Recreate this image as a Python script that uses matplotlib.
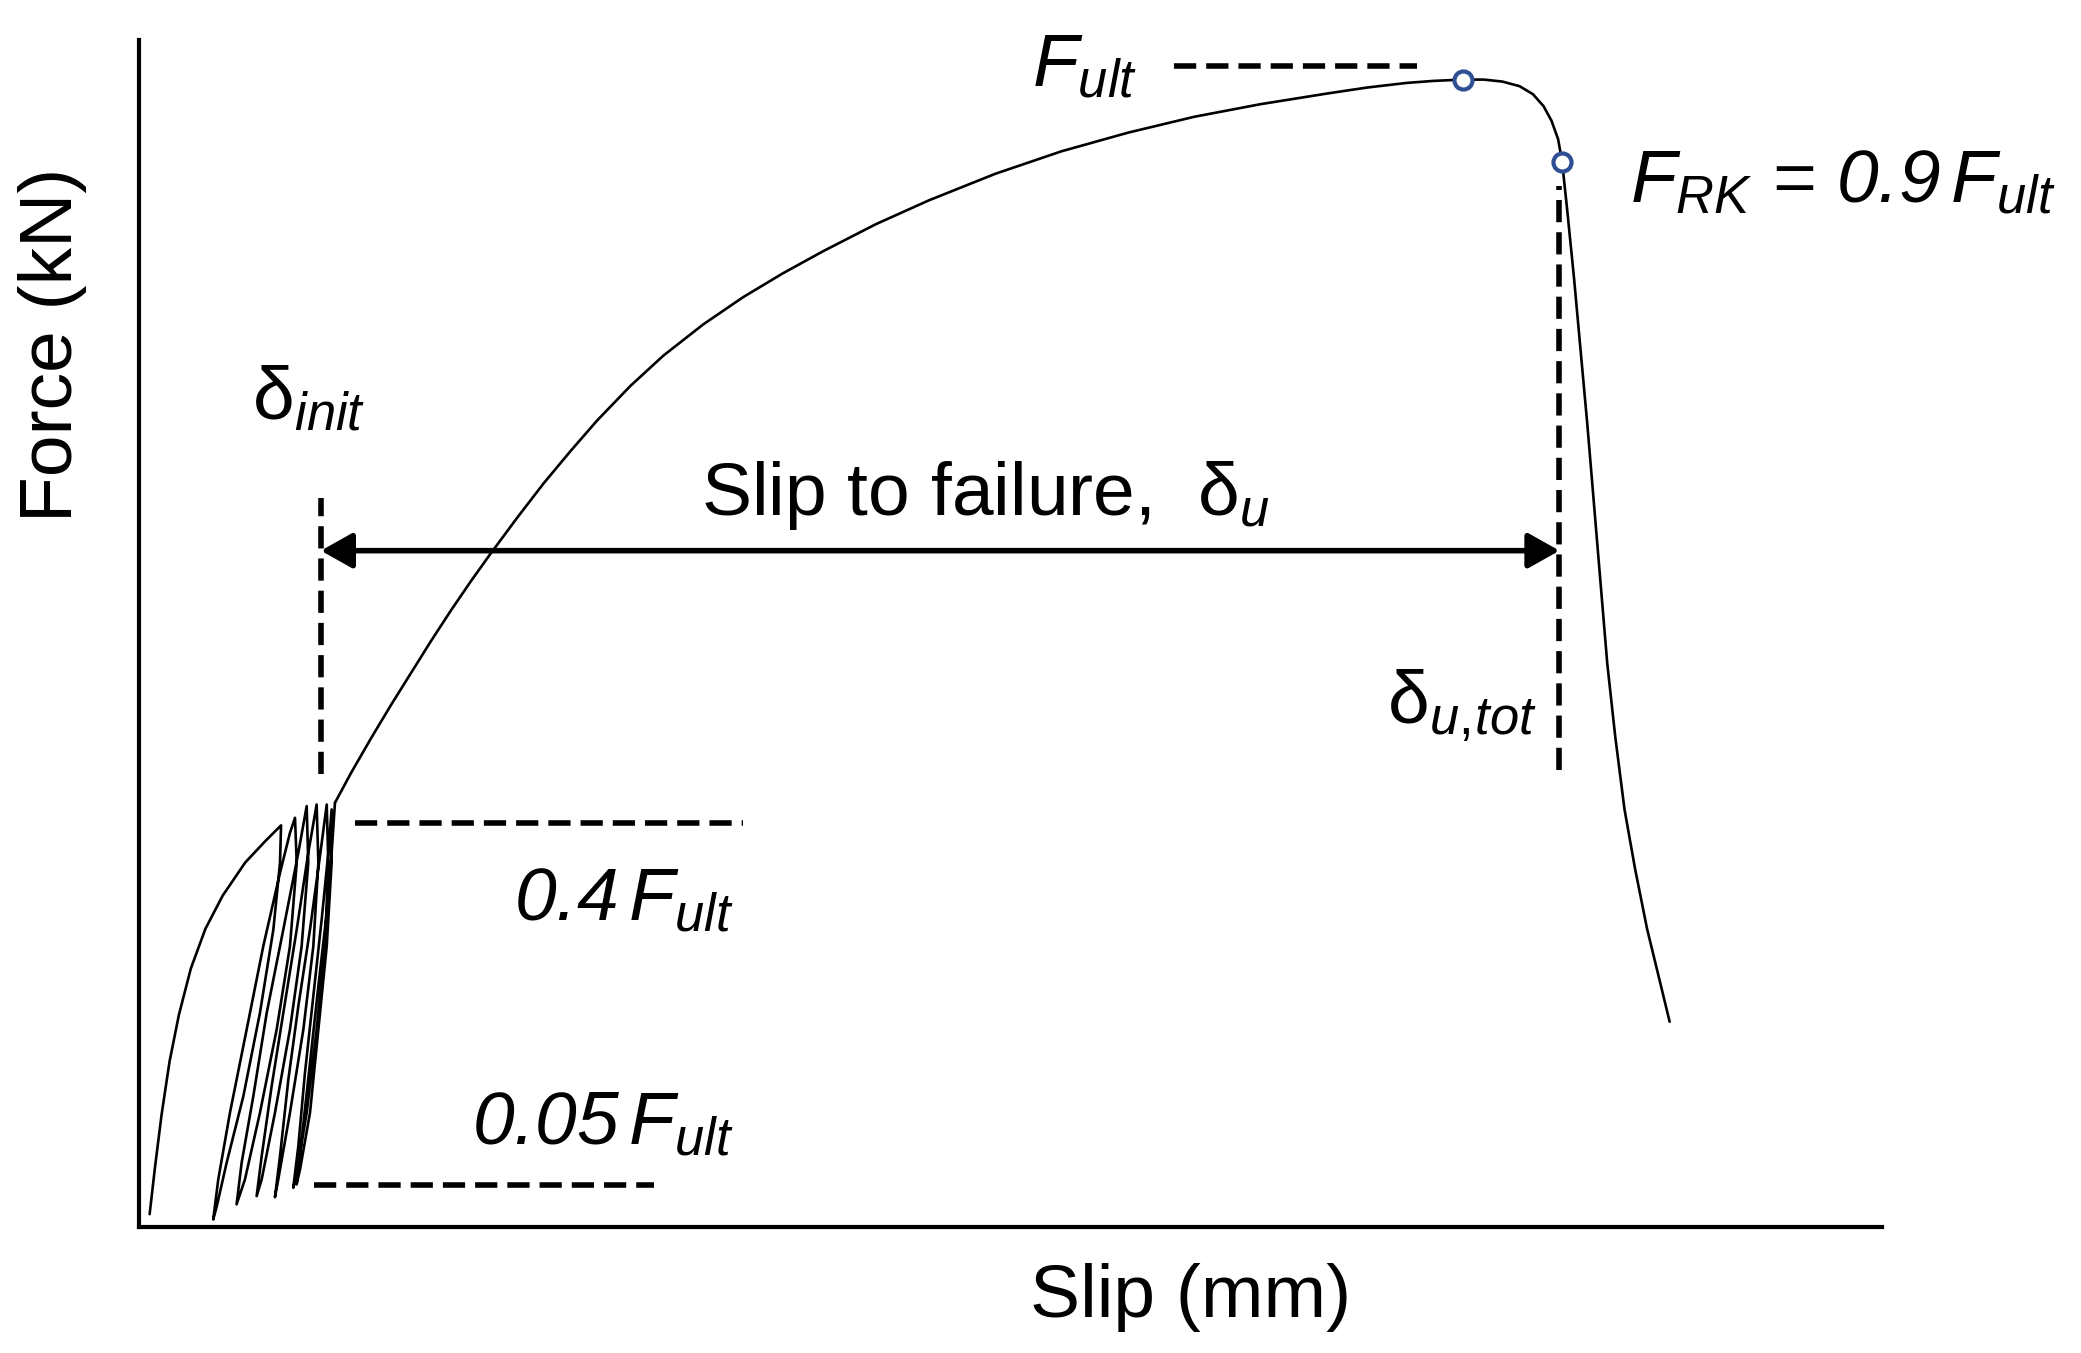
import matplotlib
matplotlib.use("Agg")
import matplotlib.pyplot as plt
from matplotlib.patches import ArrowStyle

plt.rcParams['font.family'] = ['Liberation Sans', 'DejaVu Sans']
plt.rcParams['mathtext.fontset'] = 'custom'
plt.rcParams['mathtext.rm'] = 'Liberation Sans'
plt.rcParams['mathtext.it'] = 'Liberation Sans:italic'
plt.rcParams['mathtext.bf'] = 'Liberation Sans:bold'

# ---------------- data (schematic units, no scale given) ----------------
# cyclic pre-loading loops between 0.05 Fult and 0.4 Fult
cyclic_slip = [8, 12, 17, 23, 30, 39, 50, 63, 80, 95, 107,
               106.2, 101.2, 91.1, 78.6, 66.0, 58.6, 55.9,
               59.7, 68.5, 81.1, 93.6, 106.2, 113.7, 117.5,
               118.8, 113.7, 103.7, 91.1, 79.8, 73.5,
               77.3, 86.1, 96.2, 108.7, 120.0, 126.3,
               127.5, 122.5, 113.7, 102.4, 92.4, 88.6,
               92.4, 99.9, 108.7, 118.8, 127.5, 133.8,
               135.1, 131.3, 123.8, 113.7, 104.9, 102.4,
               106.2, 112.5, 120.0, 128.8, 136.3, 141.4,
               142.6, 140.1, 133.8, 126.3, 118.8, 116.2,
               120.0, 125.0, 131.3, 137.6, 142.6, 145.1,
               145.1, 141.4, 135.1, 128.8, 121.3, 118.7,
               122.5, 128.8, 135.1, 141.4, 145.1, 147.6]
cyclic_force = [10, 45, 85, 125, 160, 195, 225, 250, 275, 291, 303,
                274.8, 224.5, 161.7, 98.9, 48.7, 16.1, 6.0,
                36.2, 86.4, 149.2, 211.9, 267.2, 297.3, 308.7,
                274.8, 211.9, 149.2, 86.4, 36.2, 17.4,
                48.7, 98.9, 161.7, 224.5, 282.3, 317.5,
                274.8, 211.9, 149.2, 86.4, 36.2, 23.6,
                53.7, 106.4, 161.7, 224.5, 282.3, 318.7,
                274.8, 211.9, 149.2, 86.4, 36.2, 22.8,
                53.7, 111.5, 166.7, 224.5, 279.8, 318.7,
                274.8, 211.9, 149.2, 86.4, 41.2, 29.9,
                61.3, 116.5, 174.3, 232.1, 282.3, 315.0,
                274.8, 211.9, 149.2, 86.4, 43.7, 32.4,
                66.3, 124.0, 181.8, 237.1, 282.3, 320.0]

# monotonic loading to failure
backbone_slip = [147.6, 160, 175, 190, 205, 220, 235, 250, 265, 285, 305, 325, 345, 370,
                 395, 425, 455, 485, 515, 555, 595, 645, 695, 745, 795, 845, 895, 925,
                 955, 975, 997, 1013, 1027, 1040, 1050, 1058, 1064, 1069, 1072, 1076,
                 1081, 1086, 1091, 1096, 1101, 1106, 1112, 1119, 1127, 1136, 1145, 1153]
backbone_force = [320, 343, 369, 394, 418, 442, 465, 487, 508, 535, 561, 585, 608, 634,
                  657, 680.5, 701, 719, 735.5, 756, 774, 794, 811, 825, 837, 846.5, 854.5, 859,
                  862.5, 864, 865, 865, 863.5, 860, 854, 845, 834, 820, 803, 765,
                  715, 660, 605, 545, 485, 425, 370, 315, 270, 225, 188, 155]

# key points
F_ult_point = (997, 865)
F_rk_point = (1072, 803)

# reference levels
F_ult_level = 875
F04_level = 305
F005_level = 32
delta_init = 137
delta_u_tot = 1070
arrow_level = 510

# ---------------- figure ----------------
fig = plt.figure(figsize=(20.81, 13.53), dpi=100)
ax = fig.add_axes([0.0668, 0.0928, 0.8376, 0.8778])
ax.set_xlim(0, 1313)
ax.set_ylim(0, 895)

for s in ['top', 'right']:
    ax.spines[s].set_visible(False)
for s in ['left', 'bottom']:
    ax.spines[s].set_linewidth(3)
ax.set_xticks([])
ax.set_yticks([])

curve_kw = dict(color='black', lw=1.9, solid_joinstyle='round', solid_capstyle='round')
ax.plot(cyclic_slip, cyclic_force, **curve_kw)
ax.plot(backbone_slip, backbone_force, **curve_kw)

marker_color = '#2F4F95'
ax.plot(*F_ult_point, 'o', ms=13, mfc='white', mec=marker_color, mew=3, zorder=5)
ax.plot(*F_rk_point, 'o', ms=13, mfc='white', mec=marker_color, mew=3, zorder=5)

dash_kw = dict(color='black', lw=4, dashes=(4, 1.8))
ax.plot([780, 963], [F_ult_level, F_ult_level], **dash_kw)
ax.plot([163, 455], [F04_level, F04_level], **dash_kw)
ax.plot([132, 388], [F005_level, F005_level], **dash_kw)
ax.plot([delta_init, delta_init], [342, 550], **dash_kw)
ax.plot([delta_u_tot, delta_u_tot], [345, 785], **dash_kw)

ax.annotate('', xy=(delta_init, arrow_level), xytext=(delta_u_tot, arrow_level),
            arrowprops=dict(arrowstyle=ArrowStyle('<|-|>', head_length=0.4, head_width=0.225),
                            mutation_scale=48, lw=4, color='black',
                            shrinkA=0, shrinkB=0))

fs = 54
ax.text(673, 860, r'$F_{ult}$', fontsize=fs, ha='left', va='baseline')
ax.text(1123, 773, r'$F_{RK}$ = 0.9$\,F_{ult}$', fontsize=fs, ha='left', va='baseline',
        style='italic')
ax.text(85, 609, r'$\mathrm{\delta}_{init}$', fontsize=fs, ha='left', va='baseline')
ax.text(423, 537, r'Slip to failure,  $\mathrm{\delta}_{u}$', fontsize=fs, ha='left', va='baseline')
ax.text(940, 380, r'$\mathrm{\delta}_{u,\!tot}$', fontsize=fs, ha='left', va='baseline')
ax.text(448, 232, r'0.4$\,F_{ult}$', fontsize=fs, ha='right', va='baseline', style='italic')
ax.text(448, 63, r'0.05$\,F_{ult}$', fontsize=fs, ha='right', va='baseline', style='italic')

ax.set_xlabel('Slip (mm)', fontsize=fs)
ax.set_ylabel('Force (kN)', fontsize=fs)
ax.xaxis.set_label_coords(0.603, -0.030)
ax.yaxis.set_label_coords(-0.030, 0.743)

fig.savefig('out.png', dpi=100)
